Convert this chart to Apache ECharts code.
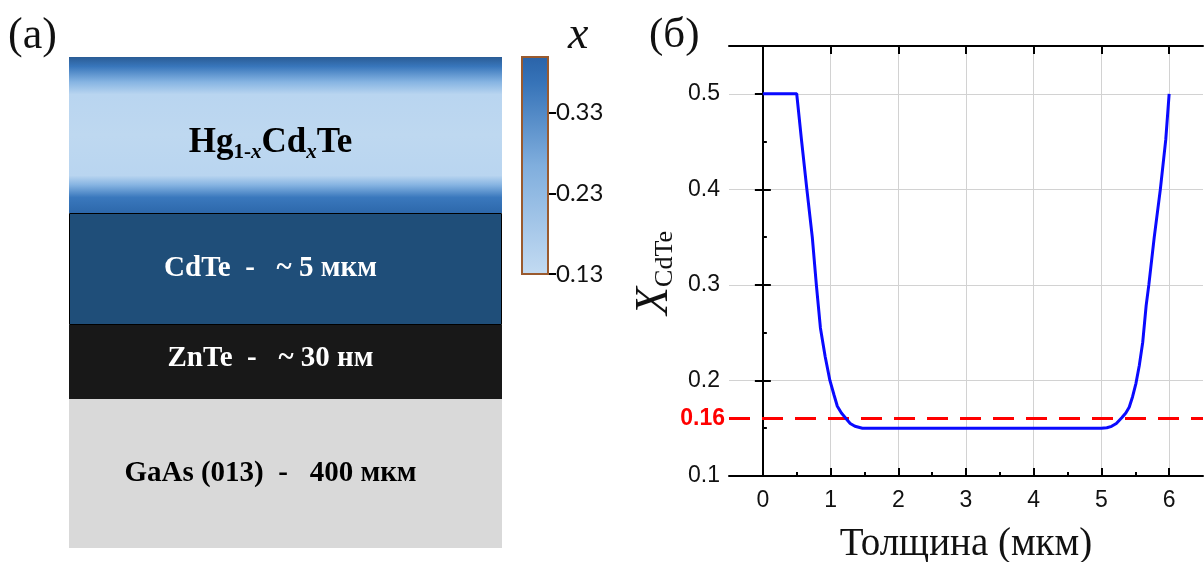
<!DOCTYPE html>
<html><head><meta charset="utf-8">
<script src="https://cdn.jsdelivr.net/npm/echarts@6/dist/echarts.min.js"></script>
<style>html,body{margin:0;padding:0;background:#fff}#c{width:1204px;height:562px}</style>
</head><body><div id="c"></div>
<script>
// ---------- Panel (a): layer stack (schematic units, bottom -> top) ----------
const layerNames = ['GaAs', 'ZnTe', 'CdTe', 'HgCdTe'];
const layerLabels = ['GaAs (013)  -   400 мкм', 'ZnTe  -   ~ 30 нм', 'CdTe  -   ~ 5 мкм',
  '{m|Hg}{s|1-}{si|x}{m|Cd}{si|x}{m|Te}'];
const layerSchematic = [1.49, 0.74, 1.12, 1.56];
// colour bar of x
const colorbarRange = [0.13, 0.40];
const colorbarTicks = [0.13, 0.23, 0.33];
// ---------- Panel (б): composition profile ----------
const thickness = [0, 0.5, 0.57, 0.65, 0.73, 0.79, 0.85, 0.92, 0.99, 1.05, 1.10, 1.16, 1.23, 1.29, 1.36, 1.47,
  5.0, 5.08, 5.15, 5.22, 5.30, 5.36, 5.41, 5.46, 5.51, 5.56, 5.61, 5.66, 5.70, 5.78, 5.87, 5.95, 6.0];
const xCdTe = [0.5, 0.5, 0.452, 0.4, 0.35, 0.3, 0.255, 0.225, 0.2, 0.185, 0.173, 0.166, 0.16, 0.155, 0.152, 0.15,
  0.15, 0.1505, 0.152, 0.155, 0.161, 0.166, 0.172, 0.183, 0.197, 0.216, 0.24, 0.278, 0.3, 0.35, 0.4, 0.452, 0.5];
const threshold = 0.16;
const xTicks = [0, 1, 2, 3, 4, 5, 6];
const xMinorTicks = [0.5, 1.5, 2.5, 3.5, 4.5, 5.5];
const yTicks = [0.1, 0.2, 0.3, 0.4, 0.5];
const yMinorTicks = [0.15, 0.25, 0.35, 0.45];

const G = echarts.graphic.LinearGradient;
const layerStyles = [
  { color: '#d9d9d9', text: '#000' },
  { color: '#181818', text: '#fff' },
  { color: '#1f4e79', text: '#fff', border: '#000' },
  { color: new G(0, 0, 0, 1, [
      { offset: 0, color: '#2a5c95' }, { offset: 0.06, color: '#3876bb' },
      { offset: 0.16, color: '#86b4e2' }, { offset: 0.24, color: '#b9d5f0' },
      { offset: 0.5, color: '#bed8f0' }, { offset: 0.76, color: '#b9d5f0' },
      { offset: 0.82, color: '#86b4e2' }, { offset: 0.9, color: '#3a78bd' },
      { offset: 1, color: '#2d68ab' }]), text: '#000' }
];
const serif = 'Liberation Serif';
const sans = 'Liberation Sans';

const layerSeries = layerNames.map((n, i) => ({
  type: 'bar', name: n, stack: 'layers', xAxisIndex: 0, yAxisIndex: 0,
  barWidth: '100%', data: [layerSchematic[i]],
  itemStyle: { color: layerStyles[i].color, borderColor: layerStyles[i].border || 'transparent',
    borderWidth: layerStyles[i].border ? 1 : 0 },
  label: { show: true, position: 'inside', formatter: layerLabels[i], offset: [-15, i === 3 ? 8 : (i === 1 ? -3 : 0)],
    color: layerStyles[i].text, fontFamily: serif, fontWeight: 'bold', fontSize: 29,
    rich: {
      m: { fontFamily: serif, fontWeight: 'bold', fontSize: 35, lineHeight: 40, color: '#000' },
      s: { fontFamily: serif, fontWeight: 'bold', fontSize: 21, lineHeight: 16, verticalAlign: 'bottom', color: '#000' },
      si: { fontFamily: serif, fontWeight: 'bold', fontStyle: 'italic', fontSize: 21, lineHeight: 16, verticalAlign: 'bottom', color: '#000' }
    } },
  silent: true
}));

const axisBlack = { lineStyle: { color: '#000', width: 2 } };
const plotX = { type: 'value', gridIndex: 1, min: -0.5, max: 6.5 };
const plotY = { type: 'value', gridIndex: 1, min: 0.1, max: 0.55 };

const option = {
  animation: false,
  title: [
    { text: '(a)', left: 8, top: 14, padding: 0, textStyle: { fontFamily: serif, fontSize: 44, fontWeight: 'normal', color: '#111' } },
    { text: '(б)', left: 649, top: 14, padding: 0, textStyle: { fontFamily: serif, fontSize: 43, fontWeight: 'normal', color: '#111' } },
    { text: 'x', left: 568, top: 13, padding: 0, textStyle: { fontFamily: serif, fontStyle: 'italic', fontSize: 46, fontWeight: 'normal', color: '#111' } }
  ],
  grid: [
    { left: 69, top: 57, width: 433, height: 491, outerBoundsMode: 'none', containLabel: false },
    { left: 729, top: 46, right: 1, bottom: 86, outerBoundsMode: 'none', containLabel: false },
    { left: 521, top: 56, width: 28, height: 218, outerBoundsMode: 'none', containLabel: false }
  ],
  xAxis: [
    { type: 'category', gridIndex: 0, data: ['stack'], show: false },
    { type: 'category', gridIndex: 2, data: ['x'], show: false },
    Object.assign({}, plotX, {
      position: 'bottom', axisLine: axisBlack,
      axisTick: { customValues: xTicks, inside: true, length: 8, lineStyle: { color: '#000', width: 2 } },
      axisLabel: { customValues: xTicks, margin: 13, fontFamily: sans, fontSize: 23, color: '#111' },
      splitLine: { show: true, customValues: xTicks, lineStyle: { color: '#d2d2d2', width: 1 } },
      name: 'Толщина (мкм)', nameLocation: 'middle', nameGap: 49,
      nameTextStyle: { fontFamily: serif, fontSize: 39, color: '#111' }
    }),
    Object.assign({}, plotX, {
      position: 'bottom', axisLine: { show: false },
      axisTick: { customValues: xMinorTicks, inside: true, length: 4, lineStyle: { color: '#000', width: 2 } },
      axisLabel: { show: false }, splitLine: { show: false }
    }),
    Object.assign({}, plotX, {
      position: 'top', axisLine: axisBlack,
      axisTick: { customValues: xTicks, inside: true, length: 8, lineStyle: { color: '#000', width: 2 } },
      axisLabel: { show: false }, splitLine: { show: false }
    })
  ],
  yAxis: [
    { type: 'value', gridIndex: 0, min: 0, max: layerSchematic.reduce((a, b) => a + b, 0), show: false },
    { type: 'value', gridIndex: 2, min: colorbarRange[0], max: colorbarRange[1], position: 'right',
      axisLine: { show: false },
      axisTick: { show: true, customValues: colorbarTicks, inside: false, length: 7, lineStyle: { color: '#000', width: 2 } },
      axisLabel: { customValues: colorbarTicks, margin: 7, fontFamily: 'Lato', fontSize: 24, color: '#111',
        formatter: v => v.toFixed(2) },
      splitLine: { show: false } },
    Object.assign({}, plotY, {
      position: 'left', interval: 0.1, axisLine: axisBlack,
      axisTick: { customValues: yTicks, inside: true, length: 8, lineStyle: { color: '#000', width: 2 } },
      axisLabel: { customValues: yTicks, margin: 9, fontFamily: sans, fontSize: 23, color: '#111',
        formatter: v => String(+v.toFixed(2)) },
      splitLine: { show: true, customValues: yTicks, lineStyle: { color: '#d2d2d2', width: 1 } },
      name: '{X|X}{s|CdTe}', nameLocation: 'middle', nameGap: 51,
      nameTextStyle: { padding: [0, 24, 0, 0], rich: {
        X: { fontFamily: serif, fontStyle: 'italic', fontSize: 46, lineHeight: 46, color: '#111' },
        s: { fontFamily: serif, fontSize: 26, lineHeight: 18, verticalAlign: 'bottom', color: '#111' } } }
    }),
    Object.assign({}, plotY, {
      position: 'left', axisLine: { show: false },
      axisTick: { customValues: yMinorTicks, inside: true, length: 4, lineStyle: { color: '#000', width: 2 } },
      axisLabel: { show: false }, splitLine: { show: false }
    }),
    Object.assign({}, plotY, {
      position: 'right', axisLine: axisBlack,
      axisTick: { customValues: yTicks, inside: true, length: 8, lineStyle: { color: '#000', width: 2 } },
      axisLabel: { show: false }, splitLine: { show: false }
    })
  ],
  series: layerSeries.concat([
    { type: 'bar', xAxisIndex: 1, yAxisIndex: 1, barWidth: '100%', data: [colorbarRange[1]], silent: true,
      itemStyle: { borderColor: '#9a5a2e', borderWidth: 2, color: new G(0, 0, 0, 1, [
        { offset: 0, color: '#2a63a8' }, { offset: 0.12, color: '#3673b8' },
        { offset: 0.5, color: '#80aedd' }, { offset: 1, color: '#c3dbf2' }]) } },
    { type: 'line', xAxisIndex: 2, yAxisIndex: 2, showSymbol: false, silent: true,
      data: thickness.map((t, i) => [t, xCdTe[i]]),
      lineStyle: { color: '#0a0aff', width: 3 }, z: 5,
      markLine: { silent: true, symbol: 'none', animation: false,
        data: [{ yAxis: threshold }],
        lineStyle: { color: '#ff0000', type: [21, 12], width: 3 },
        label: { show: true, position: 'start', distance: 4, formatter: '0.16', color: '#ff0000',
          fontFamily: sans, fontWeight: 'bold', fontSize: 23 } } }
  ])
};
const chart = echarts.init(document.getElementById('c'), null, { renderer: 'canvas' });
chart.setOption(option);
</script></body></html>
